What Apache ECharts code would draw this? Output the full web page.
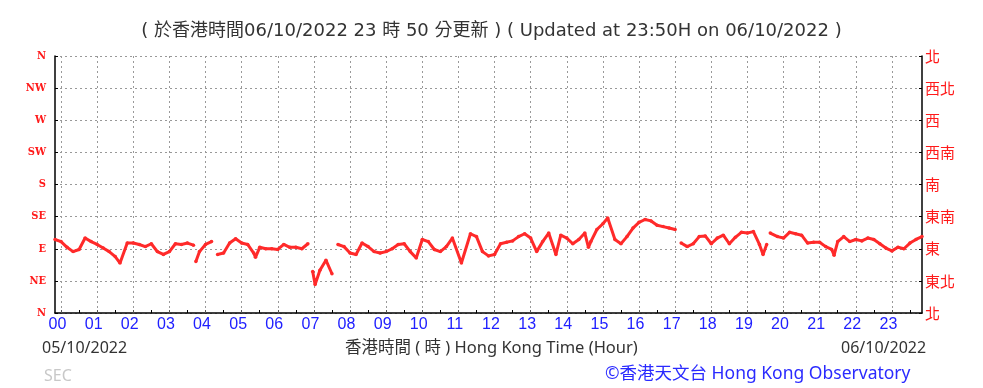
<!DOCTYPE html>
<html>
<head>
<meta charset="utf-8">
<script src="https://cdn.jsdelivr.net/npm/echarts@6/dist/echarts.min.js"></script>
<style>
html,body{margin:0;padding:0;background:#fff;}
#c{width:983px;height:388px;}
</style>
</head>
<body>
<div id="c"></div>
<script>
// Time in minutes from 00:00 on 05/10/2022 (null value = gap)
const times = [-10,0,10,20,30,40,50,60,70,80,90,98,110,120,130,140,150,160,170,180,190,200,210,220,222,224,230,240,250,255,260,270,280,290,300,310,320,323,330,340,350,360,370,380,390,400,410,414,418,422,430,440,450,455,460,470,480,490,500,510,520,530,540,550,560,570,580,590,600,610,620,630,640,650,665,680,690,700,710,720,730,740,750,760,770,780,790,800,810,822,830,840,850,860,870,876,880,890,900,908,920,930,940,950,960,970,980,990,1000,1010,1020,1025,1030,1040,1050,1060,1070,1080,1090,1100,1110,1120,1130,1140,1150,1160,1166,1172,1175,1178,1190,1200,1210,1220,1230,1240,1250,1260,1270,1280,1284,1290,1300,1310,1320,1330,1340,1350,1360,1370,1380,1390,1400,1410,1420,1430];
// Wind direction in degrees
const directions = [103,100,92,86,89,105,100,96,91,86,79,70,98,98,96,93,97,86,82,86,97,96,98,95,null,72,86,96,100,null,82,84,98,104,98,96,84,78,92,90,90,89,96,92,92,90,97,null,58,40,60,74,55,null,96,93,84,82,98,93,86,84,86,90,96,97,86,77,103,100,89,86,93,105,70,111,107,86,80,82,97,99,101,107,111,105,86,100,112,82,109,105,97,103,112,92,100,117,125,133,103,97,107,119,127,131,129,123,121,119,117,null,98,93,97,107,108,97,105,109,97,106,113,112,114,96,82,96,null,112,107,105,113,111,109,98,99,99,93,89,81,100,107,100,103,101,105,103,97,91,87,92,90,98,103,107];
const hourTicks = [0,60,120,180,240,300,360,420,480,540,600,660,720,780,840,900,960,1020,1080,1140,1200,1260,1320,1380];
const halfHourTicks = [30,90,150,210,270,330,390,450,510,570,630,690,750,810,870,930,990,1050,1110,1170,1230,1290,1350,1410];
const leftLabels = ['N','NE','E','SE','S','SW','W','NW','N'];
const rightLabels = ['北','東北','東','東南','南','西南','西','西北','北'];
const titleText = '( 於香港時間06/10/2022 23 時 50 分更新 ) ( Updated at 23:50H on 06/10/2022 )';

const seriesData = times.map((t, i) => [t, directions[i]]);

const chart = echarts.init(document.getElementById('c'), null, {renderer: 'canvas'});
chart.setOption({
  animation: false,
  backgroundColor: '#fff',
  title: [
    {text: titleText, left: 'center', top: 17, textStyle: {fontFamily: 'DejaVu Sans, Noto Sans CJK TC', fontSize: 18, fontWeight: 'normal', color: '#333'}},
    {text: '05/10/2022', left: 37, top: 335, textStyle: {fontFamily: 'Noto Sans', fontSize: 16, fontWeight: 'normal', color: '#333'}},
    {text: '香港時間 ( 時 ) Hong Kong Time (Hour)', left: 340, top: 335, textStyle: {fontFamily: 'Noto Sans, Noto Sans CJK TC', fontSize: 16.5, fontWeight: 'normal', color: '#333'}},
    {text: '06/10/2022', left: 836, top: 335, textStyle: {fontFamily: 'Noto Sans', fontSize: 16, fontWeight: 'normal', color: '#333'}},
    {text: 'SEC', left: 39, top: 363, textStyle: {fontFamily: 'Noto Sans', fontSize: 16, fontWeight: 'normal', color: '#c8c8c8'}},
    {text: '©香港天文台 Hong Kong Observatory', left: 600, top: 360, textStyle: {fontFamily: 'Noto Sans, Noto Sans CJK TC', fontSize: 17.5, fontWeight: 'normal', color: '#2a2aff'}}
  ],
  grid: {left: 55, right: 61, top: 56, bottom: 75, containLabel: false},
  xAxis: [
    {
      type: 'value', min: -10, max: 1430, position: 'bottom',
      axisLine: {show: true, onZero: false, lineStyle: {color: '#000', width: 1.5}},
      axisTick: {show: true, inside: true, length: 3, customValues: hourTicks, lineStyle: {color: '#555'}},
      axisLabel: {show: true, customValues: hourTicks, color: '#2020ff', fontSize: 16, fontFamily: 'Liberation Sans', margin: 4,
        padding: [0, 7, 0, 0],
        formatter: v => String(Math.round(v / 60)).padStart(2, '0')},
      splitLine: {show: true, lineStyle: {color: '#999', type: [2, 3], width: 1}}
    },
    {
      type: 'value', min: -10, max: 1430, position: 'bottom',
      axisLine: {show: false, onZero: false},
      axisTick: {show: true, inside: true, length: 3, customValues: halfHourTicks, lineStyle: {color: '#000'}},
      axisLabel: {show: false},
      splitLine: {show: false}
    }
  ],
  yAxis: [
    {
      type: 'value', min: 0, max: 360, interval: 45, position: 'left',
      axisLine: {show: true, onZero: false, lineStyle: {color: '#000', width: 1.5}},
      axisTick: {show: true, inside: true, length: 3, lineStyle: {color: '#000'}},
      axisLabel: {color: '#ff1a1a', fontFamily: 'DejaVu Serif Condensed, DejaVu Serif', fontWeight: 'bold', fontSize: 11, margin: 9,
        formatter: v => leftLabels[Math.round(v / 45)]},
      splitLine: {show: true, lineStyle: {color: '#999', type: [2, 3], width: 1}}
    },
    {
      type: 'value', min: 0, max: 360, interval: 45, position: 'right',
      axisLine: {show: true, onZero: false, lineStyle: {color: '#000', width: 1.5}},
      axisTick: {show: true, inside: true, length: 3, lineStyle: {color: '#000'}},
      axisLabel: {color: '#ff1a1a', fontFamily: 'Noto Sans CJK TC', fontSize: 15, margin: 3,
        formatter: v => rightLabels[Math.round(v / 45)]},
      splitLine: {show: false}
    }
  ],
  series: [{
    type: 'line',
    xAxisIndex: 0, yAxisIndex: 0,
    data: seriesData,
    connectNulls: false,
    showSymbol: true,
    symbol: 'circle',
    symbolSize: 3.5,
    itemStyle: {color: '#ff2a2a'},
    lineStyle: {color: '#ff2a2a', width: 3},
    silent: true
  }]
});
</script>
</body>
</html>
